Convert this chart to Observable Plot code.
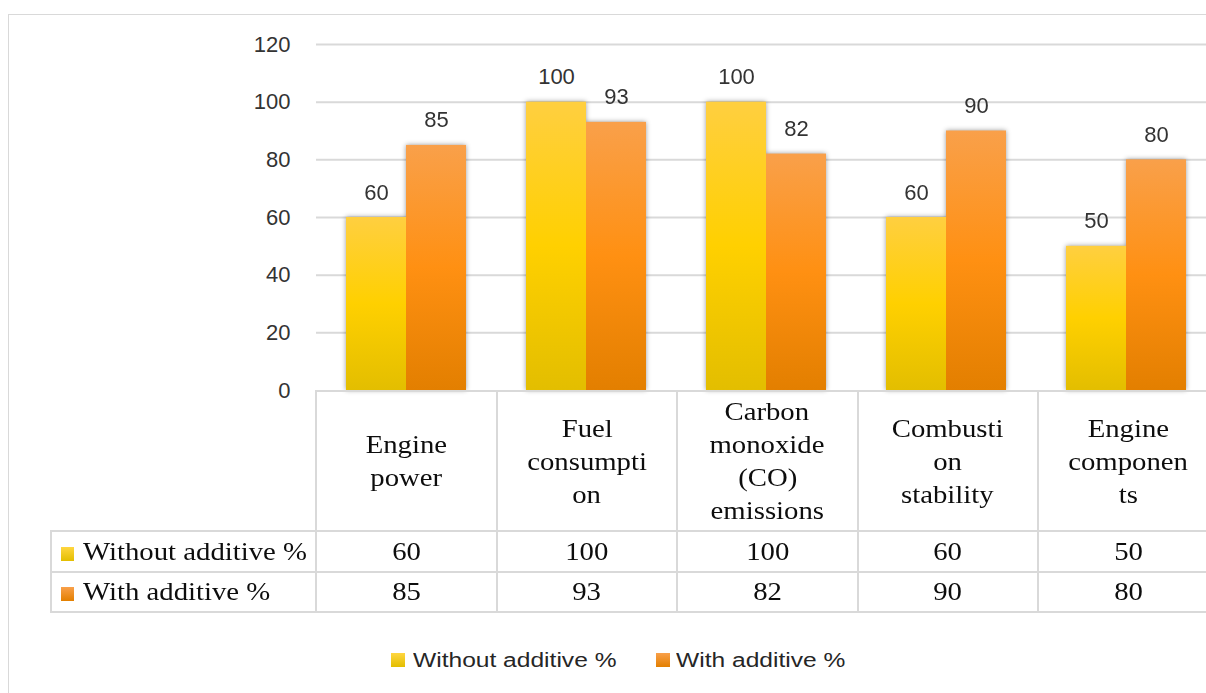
<!DOCTYPE html>
<html>
<head>
<meta charset="utf-8">
<script src="https://cdn.jsdelivr.net/npm/d3@7"></script>
<script src="https://cdn.jsdelivr.net/npm/@observablehq/plot@0.6"></script>
<style>
  html, body { margin: 0; padding: 0; background: #fff; overflow: hidden; }
  #wrap { position: relative; width: 1206px; height: 693px; overflow: hidden; background: #fff; }
  #chart { position: absolute; left: 0; top: 0; }
  #frame { position: absolute; left: 8px; top: 14px; width: 1400px; height: 900px; border: 1px solid #d9d9d9; box-sizing: border-box; pointer-events: none; }
  table.dt { position: absolute; left: 50px; top: 390px; width: 1167.5px; border-collapse: collapse; table-layout: fixed;
    font-family: "Liberation Serif", "Times New Roman", serif; font-size: 25px; color: #0d0d0d; }
  table.dt td { border: 2px solid #d9d9d9; padding: 0; text-align: center; vertical-align: middle; white-space: nowrap; }
  table.dt td.blank { border-top: none; border-left: none; }
  .hdr { line-height: 33px; }
  .s { display: inline-block; transform: scaleX(1.15); transform-origin: center center; }
  .rl { text-align: left !important; padding-left: 9px !important; }
  .rl .s { transform-origin: left center; }
  .key { display: inline-block; width: 13px; height: 14px; margin-right: 9px; vertical-align: -1px; }
  .leg { position: absolute; font-family: "Liberation Sans", Arial, sans-serif; font-size: 19.5px; line-height: 19.5px; color: #262626; white-space: nowrap; }
  .legkey { position: absolute; width: 14px; height: 14px; }
  .leg span { display: inline-block; transform: scaleX(1.26); transform-origin: left center; }
</style>
</head>
<body>
<div id="wrap"></div>
<script>
// ---- data ----
const categories = ["Engine power", "Fuel consumption", "Carbon monoxide (CO) emissions", "Combustion stability", "Engine components"];
const categoryLabels = ["Engine\npower", "Fuel\nconsumpti\non", "Carbon\nmonoxide\n(CO)\nemissions", "Combusti\non\nstability", "Engine\ncomponen\nts"];
const series = ["Without additive %", "With additive %"];
const withoutAdditive = [60, 100, 100, 60, 50];
const withAdditive = [85, 93, 82, 90, 80];
const yTicks = [0, 20, 40, 60, 80, 100, 120];

const seriesValues = [withoutAdditive, withAdditive];
const data = categories.flatMap((c, i) => series.map((s, j) => ({category: c, series: s, value: seriesValues[j][i]})));

const gradients = {
  gradY: [["0%", "#FFCF40"], ["50%", "#FFD000"], ["100%", "#E3BE00"]],
  gradO: [["0%", "#F9A04A"], ["50%", "#FF9012"], ["100%", "#E37F00"]]
};
const keyCss = ["linear-gradient(#FFD640, #E3BE00)", "linear-gradient(#F9A04A, #E37F00)"];

const wrap = document.getElementById("wrap");

const svg = Plot.plot({
  width: 1206,
  height: 400,
  marginTop: 44,
  marginBottom: 10,
  marginLeft: 315,
  marginRight: 0,
  style: {background: "transparent", overflow: "visible", fontFamily: "'Liberation Sans', Arial, sans-serif"},
  fx: {domain: categories, range: [315, 1217.5], padding: 0, axis: null, label: null},
  x: {domain: series, paddingInner: 0, paddingOuter: 0.5, axis: null, label: null},
  y: {domain: [0, 120], axis: null, label: null},
  color: {domain: series, range: ["url(#gradY)", "url(#gradO)"]},
  marks: [
    Plot.gridY(yTicks.filter(d => d > 0), {stroke: "#d9d9d9", strokeOpacity: 1, strokeWidth: 2}),
    Plot.axisY(yTicks, {tickSize: 0, tickPadding: 26, fontSize: 22, fill: "#333", label: null}),
    Plot.barY(data, {fx: "category", x: "series", y: "value", fill: "series"}),
    Plot.text(data, {fx: "category", x: "series", y: "value", text: "value", lineAnchor: "bottom", dy: -18, fontSize: 22, fill: "#333"})
  ]
});
svg.id = "chart";

const defs = d3.select(svg).insert("defs", ":first-child");
for (const [id, stops] of Object.entries(gradients)) {
  const g = defs.append("linearGradient").attr("id", id).attr("x1", 0).attr("y1", 0).attr("x2", 0).attr("y2", 1);
  for (const [o, c] of stops) g.append("stop").attr("offset", o).attr("stop-color", c);
}
d3.select(svg).selectAll('g[aria-label="bar"]').style("filter", "drop-shadow(0px 0px 2.5px rgba(0,0,0,0.4))");
wrap.appendChild(svg);

// ---- data table ----
const table = document.createElement("table");
table.className = "dt";
const colgroup = document.createElement("colgroup");
[265, ...categories.map(() => 180.5)].forEach(w => {
  const col = document.createElement("col");
  col.style.width = w + "px";
  colgroup.appendChild(col);
});
table.appendChild(colgroup);

const hr = document.createElement("tr");
hr.style.height = "140px";
const blank = document.createElement("td");
blank.className = "blank";
hr.appendChild(blank);
categoryLabels.forEach(lbl => {
  const td = document.createElement("td");
  td.className = "hdr";
  td.innerHTML = lbl.split("\n").map(l => `<span class="s">${l}</span>`).join("<br>");
  hr.appendChild(td);
});
table.appendChild(hr);

series.forEach((s, j) => {
  const tr = document.createElement("tr");
  tr.style.height = j === 0 ? "41px" : "40px";
  const td0 = document.createElement("td");
  td0.className = "rl";
  td0.innerHTML = `<span class="key" style="background:${keyCss[j]}"></span><span class="s">${s}</span>`;
  tr.appendChild(td0);
  seriesValues[j].forEach(v => {
    const td = document.createElement("td");
    td.innerHTML = `<span class="s">${v}</span>`;
    tr.appendChild(td);
  });
  table.appendChild(tr);
});
wrap.appendChild(table);

// ---- legend ----
const legendPos = [{key: 391, text: 413}, {key: 656, text: 676}];
series.forEach((s, j) => {
  const k = document.createElement("div");
  k.className = "legkey";
  k.style.left = legendPos[j].key + "px";
  k.style.top = "653px";
  k.style.background = keyCss[j];
  wrap.appendChild(k);
  const t = document.createElement("div");
  t.className = "leg";
  t.style.left = legendPos[j].text + "px";
  t.style.top = "650.5px";
  t.innerHTML = `<span>${s}</span>`;
  wrap.appendChild(t);
});

const frame = document.createElement("div");
frame.id = "frame";
wrap.appendChild(frame);
</script>
</body>
</html>
